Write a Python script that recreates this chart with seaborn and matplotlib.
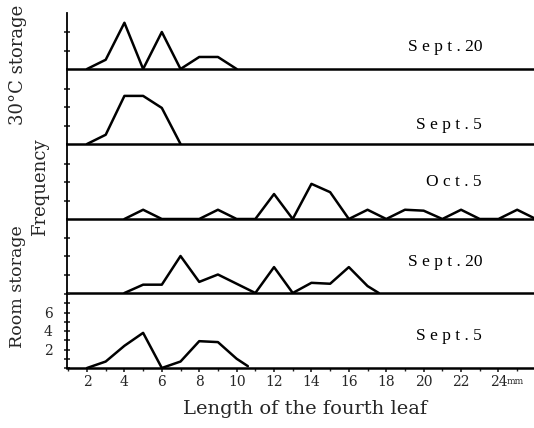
import matplotlib
matplotlib.use("Agg")
import matplotlib.pyplot as plt
import seaborn as sns
import pandas as pd
from matplotlib.ticker import MultipleLocator

# ---- data ----
p1_x = [2, 3, 4, 5, 6, 7, 8, 9, 10]
p1_y = [0, 1.0, 5.0, 0, 4.0, 0, 1.3, 1.3, 0]

p2_x = [2, 3, 4, 5, 6, 7]
p2_y = [0, 1.0, 5.2, 5.2, 3.9, 0]

p3_x = [4, 5, 6, 7, 8, 9, 10, 11, 12, 13, 14, 15, 16, 17, 18, 19, 20, 21, 22, 23, 24, 25, 26]
p3_y = [0, 1.0, 0, 0, 0, 1.0, 0, 0, 2.7, 0, 3.8, 2.9, 0, 1.0, 0, 1.0, 0.9, 0, 1.0, 0, 0, 1.0, 0]

p4_x = [4, 5, 6, 7, 8, 9, 10, 11, 12, 13, 14, 15, 16, 17, 17.6]
p4_y = [0, 0.9, 0.9, 4.0, 1.2, 2.0, 1.0, 0, 2.8, 0, 1.1, 1.0, 2.8, 0.75, 0]

p5_x = [2, 3, 4, 5, 6, 7, 8, 9, 10, 10.6]
p5_y = [0, 0.7, 2.4, 3.8, 0, 0.7, 2.9, 2.8, 1.0, 0.2]

panel_labels = ["S e p t . 20", "S e p t . 5", "O c t . 5", "S e p t . 20", "S e p t . 5"]
x_ticks = [2, 4, 6, 8, 10, 12, 14, 16, 18, 20, 22, 24]
y_ticks_bottom = [2, 4, 6]

series = [(p1_x, p1_y), (p2_x, p2_y), (p3_x, p3_y), (p4_x, p4_y), (p5_x, p5_y)]

sns.set_style("white")
plt.rcParams["font.family"] = ["DejaVu Serif"]

W, H = 534, 428
fig = plt.figure(figsize=(W / 100, H / 100), dpi=100)

bases = [69, 144, 219, 293, 368]
tops = [13, 69, 144, 219, 293]
label_y = [47, 125, 182, 262, 336]
px_per_unit = 9.25
left_px = 67
xlim = (0.93, 25.9)

for i, ((xs, ys), base, top) in enumerate(zip(series, bases, tops)):
    ax = fig.add_axes([left_px / W, 1 - base / H, (W - left_px) / W, (base - top) / H])
    df = pd.DataFrame({"x": xs, "y": ys})
    sns.lineplot(data=df, x="x", y="y", ax=ax, color="black", linewidth=1.8, sort=False)
    ax.set_xlim(*xlim)
    ax.set_ylim(0, (base - top) / px_per_unit)
    ax.patch.set_alpha(0)
    for s in ["top", "right"]:
        ax.spines[s].set_visible(False)
    ax.spines["left"].set_linewidth(1.3)
    ax.spines["bottom"].set_linewidth(1.8)
    ax.spines["left"].set_color("black")
    ax.spines["bottom"].set_color("black")
    ax.set_xlabel("")
    ax.set_ylabel("")
    if i < 4:
        ax.set_xticks([])
        yt = [2, 4] if i == 0 else [2, 4, 6]
        ax.set_yticks(yt)
        ax.set_yticklabels([])
        ax.tick_params(axis="y", direction="inout", length=5, width=1.2, left=True)
    else:
        ax.set_xticks(x_ticks)
        ax.set_xticklabels([str(t) for t in x_ticks], fontsize=10)
        ax.xaxis.set_minor_locator(MultipleLocator(1))
        ax.tick_params(axis="x", which="major", direction="out", length=3, width=1.2, bottom=True, pad=2)
        ax.tick_params(axis="x", which="minor", direction="out", length=2, width=1.0, bottom=True)
        ax.set_yticks(y_ticks_bottom)
        ax.set_yticklabels([str(t) for t in y_ticks_bottom], fontsize=10)
        ax.yaxis.set_minor_locator(MultipleLocator(1))
        ax.tick_params(axis="y", which="both", direction="inout", length=5, width=1.2, left=True, pad=8)
    fig.text(482 / W, 1 - label_y[i] / H, panel_labels[i], ha="right", va="center",
             fontsize=12.5, color="black", family="Liberation Serif")

fig.text(515 / W, 1 - 381 / H, "mm", ha="center", va="center", fontsize=6.5)
fig.text(305 / W, 1 - 409 / H, "Length of the fourth leaf", ha="center", va="center", fontsize=14)
fig.text(18 / W, 1 - 65 / H, "30°C storage", rotation=90, ha="center", va="center", fontsize=13)
fig.text(40 / W, 1 - 187 / H, "Frequency", rotation=90, ha="center", va="center", fontsize=13)
fig.text(18 / W, 1 - 287 / H, "Room storage", rotation=90, ha="center", va="center", fontsize=12.5)

fig.savefig("out.png", dpi=100)
